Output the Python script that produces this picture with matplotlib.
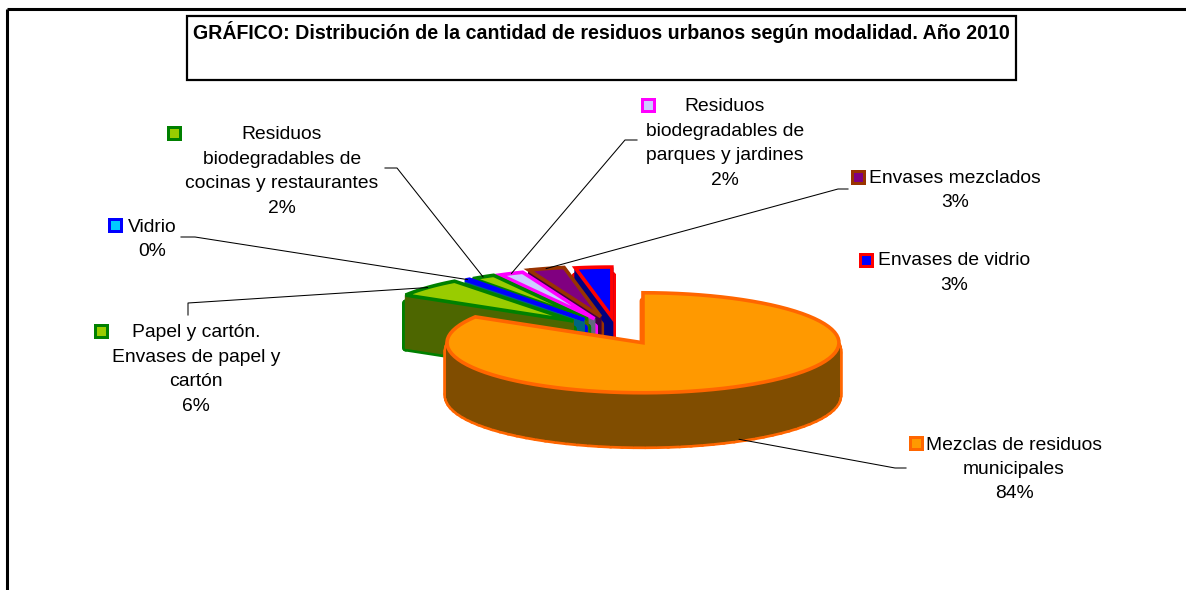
import numpy as np
import matplotlib
matplotlib.use("Agg")
import matplotlib.pyplot as plt
from matplotlib.patches import Polygon, Rectangle

# slices, clockwise from 12 o'clock
names = [
    "Mezclas de residuos\nmunicipales",
    "Papel y cartón.\nEnvases de papel y\ncartón",
    "Vidrio",
    "Residuos\nbiodegradables de\ncocinas y restaurantes",
    "Residuos\nbiodegradables de\nparques y jardines",
    "Envases mezclados",
    "Envases de vidrio",
]
values = [84.0, 6.0, 0.4, 2.0, 2.0, 3.0, 3.0]
shown_pct = ["84%", "6%", "0%", "2%", "2%", "3%", "3%"]

top_colors = ["#FF9900", "#99CC00", "#00CCFF", "#99CC00", "#CCCCFF", "#800080", "#0000FF"]
edge_colors = ["#FF6600", "#008000", "#0000FF", "#008000", "#FF00FF", "#993300", "#FF0000"]
side_colors = ["#804D00", "#4D6600", "#006680", "#4D6600", "#666680", "#400040", "#000080"]

# pie geometry in pixels
CX, CY = 617, 331
RX, RY = 196, 50
DEPTH = 53
EXPLODE = [0.27, 0.30, 0.28, 0.28, 0.27, 0.30, 0.28]
EDGE_PX = 3.6
PX = 72 / 100

# label layout: centre x, centre y of the text block, key x, key y
label_pos = [
    (1014, 469.5, 916, 443),
    (196, 369.5, 101, 331),
    (152, 239.5, 115, 225),
    (282, 171.5, 174, 133),
    (725, 143.5, 648, 105),
    (955, 190.5, 858, 177),
    (954, 273, 866, 260),
]
# leader elbows, from the label towards the slice
leaders = {
    0: [(906, 468), (895, 468)],
    1: [(188, 315), (188, 303)],
    2: [(181, 237), (195, 237)],
    3: [(385, 168), (397, 168)],
    4: [(637, 140), (625, 140)],
    5: [(848, 189), (838, 189)],
}

fig = plt.figure(figsize=(11.86, 5.9), dpi=100)
ax = fig.add_axes([0, 0, 1, 1])
ax.set_xlim(0, 1186)
ax.set_ylim(590, 0)
ax.axis("off")
plt.rcParams["font.family"] = ["Liberation Sans", "DejaVu Sans"]

# outer frame and title box
ax.plot([7, 7], [590, 9], color="black", lw=2.2, solid_capstyle="butt")
ax.plot([7, 1186], [9, 9], color="black", lw=2.2, solid_capstyle="butt")
ax.add_patch(Rectangle((187, 16), 829, 64, fc="white", ec="black", lw=1.6))
ax.text(601, 32, "GRÁFICO: Distribución de la cantidad de residuos urbanos según modalidad. Año 2010",
        ha="center", va="center", fontsize=14.1, fontweight="bold")


def slice_outline(start, stop, offset_x, offset_y):
    t = np.radians(90 - np.linspace(start, stop, 90))
    x = offset_x + RX * np.cos(t)
    y = offset_y - RY * np.sin(t)
    return np.column_stack([np.r_[offset_x, x], np.r_[offset_y, y]])


fractions = np.array(values) / sum(values) * 360
stops = np.cumsum(fractions)
starts = stops - fractions
mids = (starts + stops) / 2
centres = []
for i in range(len(values)):
    t = np.radians(90 - mids[i])
    centres.append((CX + EXPLODE[i] * RX * np.cos(t), CY - EXPLODE[i] * RY * np.sin(t)))

# back slices first: last slice is furthest back, the big one is in front
for i in list(range(len(values) - 1, 0, -1)) + [0]:
    top = slice_outline(starts[i], stops[i], *centres[i])
    closed = np.vstack([top, top[:1]])
    quads = []
    halo = []
    for a, b in zip(closed[:-1], closed[1:]):
        quads.append([a, b, b + (0, DEPTH), a + (0, DEPTH)])
        # outline of the wall, kept below the top face so it does not thicken its edge
        halo.append([a + (0, 8), b + (0, 8), b + (0, DEPTH), a + (0, DEPTH)])
    for q in halo:
        ax.add_patch(Polygon(q, fc=edge_colors[i], ec=edge_colors[i], lw=2 * 3.4 * PX, joinstyle="round"))
    for q in quads:
        ax.add_patch(Polygon(q, fc=side_colors[i], ec=side_colors[i], lw=1.0))
    ax.add_patch(Polygon(top, fc=top_colors[i], ec=edge_colors[i], lw=EDGE_PX * PX, joinstyle="miter"))

# leader lines end on the outer rim of each slice
for i, pts in leaders.items():
    t = np.radians(90 - mids[i])
    end_x = centres[i][0] + RX * np.cos(t)
    end_y = centres[i][1] - RY * np.sin(t)
    if i == 0:
        end_y += DEPTH
    xs = [p[0] for p in pts] + [end_x]
    ys = [p[1] for p in pts] + [end_y]
    ax.plot(xs, ys, color="black", lw=0.75)

# labels and legend keys
for i in range(len(values)):
    lx, ly, kx, ky = label_pos[i]
    ax.text(lx, ly, names[i] + "\n" + shown_pct[i], ha="center", va="center",
            fontsize=13.9, linespacing=1.57)
    ax.add_patch(Rectangle((kx - 6, ky - 6), 12, 12, fc=top_colors[i], ec=edge_colors[i], lw=3 * PX))

fig.savefig("out.png", dpi=100)
